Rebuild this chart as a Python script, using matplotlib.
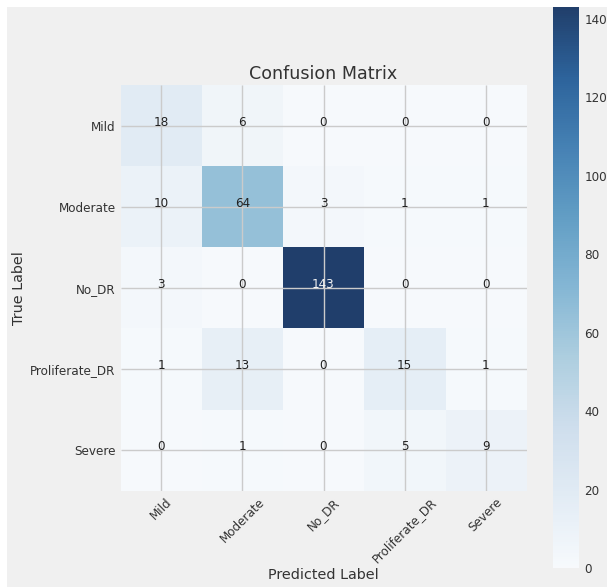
import numpy as np
import matplotlib
matplotlib.use("Agg")
import matplotlib.pyplot as plt
from matplotlib.patches import Rectangle
from matplotlib.colors import ListedColormap, rgb_to_hsv, hsv_to_rgb

# data
classes = ["Mild", "Moderate", "No_DR", "Proliferate_DR", "Severe"]
cm = np.array([
    [18, 6, 0, 0, 0],
    [10, 64, 3, 1, 1],
    [3, 0, 143, 0, 0],
    [1, 13, 0, 15, 1],
    [0, 1, 0, 5, 9],
])
cbar_ticks = [0, 20, 40, 60, 80, 100, 120, 140]

plt.style.use("fivethirtyeight")
plt.rcParams["font.size"] = 8.64
plt.rcParams["font.family"] = "DejaVu Sans"

# slightly muted version of Blues (the reference looks less saturated)
base = plt.cm.Blues(np.linspace(0, 1, 256))[:, :3]
hsv = rgb_to_hsv(base)
hsv[:, 1] *= 0.75
hsv[:, 2] = np.clip(hsv[:, 2] * 0.98 + 0.01, 0, 1)
cmap = ListedColormap(hsv_to_rgb(hsv))

W, H = 607, 587
fig = plt.figure(figsize=(W / 100, H / 100), dpi=100, facecolor="white")
# grey panel (white strip at top/left like the notebook output)
fig.patches.append(Rectangle((7 / W, 0), 1, (H - 7) / H, transform=fig.transFigure,
                             facecolor="#f0f0f0", edgecolor="none", zorder=-10))

ax = fig.add_axes([120 / W, (H - 491) / H, 407 / W, 406 / H])
im = ax.imshow(cm, interpolation="nearest", cmap=cmap)
ax.set_title("Confusion Matrix", fontsize=12.6, pad=4.5, color="#333333")

tick_marks = np.arange(len(classes))
ax.set_xticks(tick_marks)
ax.set_xticklabels(classes, rotation=45)
ax.set_yticks(tick_marks)
ax.set_yticklabels(classes)
ax.tick_params(labelsize=8.64, colors="#333333")

thresh = cm.max() / 2.0
for i in range(cm.shape[0]):
    for j in range(cm.shape[1]):
        ax.text(j, i, cm[i, j], ha="center", fontsize=8.64,
                color="#f4f4f4" if cm[i, j] > thresh else "#222222")

ax.set_xlabel("Predicted Label", fontsize=10.4, color="#333333")
ax.set_ylabel("True Label", fontsize=10.4, color="#333333")
ax.xaxis.set_label_coords(0.5, -0.19)
ax.yaxis.set_label_coords(-0.233, 0.5)
for s in ax.spines.values():
    s.set_visible(False)

cax = fig.add_axes([553 / W, (H - 568) / H, 26 / W, 561 / H])
cb = fig.colorbar(im, cax=cax)
cb.set_ticks(cbar_ticks)
cb.outline.set_visible(False)
cax.tick_params(labelsize=8.64, colors="#333333", length=0, pad=4)
cax.grid(False)

fig.savefig("out.png", dpi=100, facecolor=fig.get_facecolor())
